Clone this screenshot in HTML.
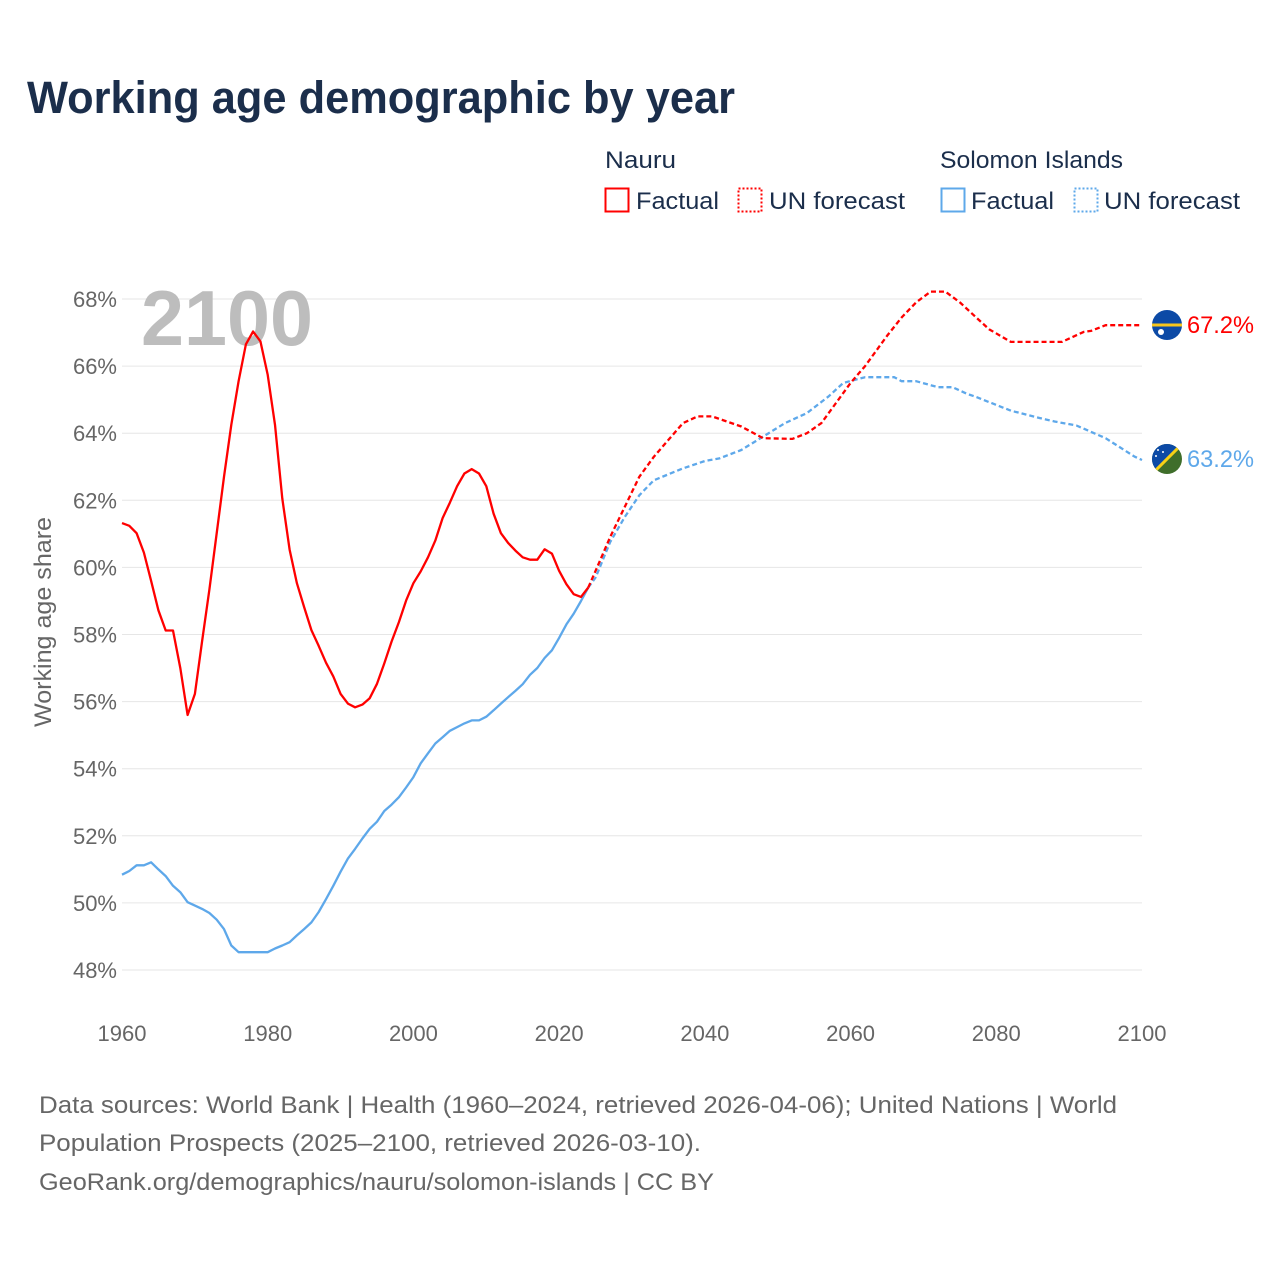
<!DOCTYPE html>
<html><head><meta charset="utf-8">
<style>
html,body{margin:0;padding:0;background:#fff;}
body{width:1280px;height:1280px;overflow:hidden;font-family:"Liberation Sans",sans-serif;}
svg text{font-family:"Liberation Sans",sans-serif;}
</style></head>
<body>
<svg id="chart" width="1280" height="1280" xmlns="http://www.w3.org/2000/svg">
<text x="27" y="113" font-size="45" font-weight="bold" fill="#1b2e4b" textLength="708" lengthAdjust="spacingAndGlyphs">Working age demographic by year</text>
<g>
<text x="605" y="168" font-size="24" fill="#1b2e4b" textLength="71" lengthAdjust="spacingAndGlyphs">Nauru</text>
<rect x="605.5" y="188.5" width="23" height="23" fill="none" stroke="#f00" stroke-width="2"/>
<text x="636" y="209" font-size="24" fill="#1b2e4b" textLength="83" lengthAdjust="spacingAndGlyphs">Factual</text>
<rect x="738.5" y="188.5" width="23" height="23" fill="none" stroke="#f00" stroke-width="2" stroke-dasharray="2,2"/>
<text x="769" y="209" font-size="24" fill="#1b2e4b" textLength="136" lengthAdjust="spacingAndGlyphs">UN forecast</text>
<text x="940" y="168" font-size="24" fill="#1b2e4b" textLength="183" lengthAdjust="spacingAndGlyphs">Solomon Islands</text>
<rect x="941.5" y="188.5" width="23" height="23" fill="none" stroke="#5ea8ea" stroke-width="2"/>
<text x="971" y="209" font-size="24" fill="#1b2e4b" textLength="83" lengthAdjust="spacingAndGlyphs">Factual</text>
<rect x="1074.5" y="188.5" width="23" height="23" fill="none" stroke="#5ea8ea" stroke-width="2" stroke-dasharray="2,2"/>
<text x="1104" y="209" font-size="24" fill="#1b2e4b" textLength="136" lengthAdjust="spacingAndGlyphs">UN forecast</text>
</g>
<g id="grid"></g>
<text x="141" y="345" font-size="78" font-weight="bold" fill="#bdbdbd" textLength="172" lengthAdjust="spacingAndGlyphs">2100</text>
<text transform="translate(51,622) rotate(-90)" text-anchor="middle" font-size="24" fill="#666" textLength="210" lengthAdjust="spacingAndGlyphs">Working age share</text>
<g id="series"></g>
<g>
<circle cx="1167" cy="325" r="15" fill="#0c4aa6"/>
<rect x="1152" y="323.5" width="30" height="3" fill="#f7c61c"/>
<circle cx="1161" cy="332" r="3" fill="#fff"/>
</g>
<g>
<clipPath id="sc"><circle cx="1167" cy="459" r="15"/></clipPath>
<g clip-path="url(#sc)">
<rect x="1150" y="442" width="34" height="34" fill="#3f6e2b"/>
<polygon points="1150,442 1184,442 1150,476" fill="#0c4aa6"/>
<line x1="1150" y1="476" x2="1184" y2="442" stroke="#f7d116" stroke-width="3"/>
<circle cx="1158" cy="450" r="1" fill="#fff"/><circle cx="1163" cy="452" r="1" fill="#fff"/><circle cx="1156" cy="456" r="1" fill="#fff"/>
</g></g>
<text id="lbl-n" x="1187" y="333" font-size="24" fill="#f00" textLength="67" lengthAdjust="spacingAndGlyphs">67.2%</text>
<text id="lbl-s" x="1187" y="467" font-size="24" fill="#5ea8ea" textLength="67" lengthAdjust="spacingAndGlyphs">63.2%</text>
<g font-size="24" fill="#666">
<text x="39" y="1113" textLength="1078" lengthAdjust="spacingAndGlyphs">Data sources: World Bank | Health (1960–2024, retrieved 2026-04-06); United Nations | World</text>
<text x="39" y="1151" textLength="662" lengthAdjust="spacingAndGlyphs">Population Prospects (2025–2100, retrieved 2026-03-10).</text>
<text x="39" y="1190" textLength="675" lengthAdjust="spacingAndGlyphs">GeoRank.org/demographics/nauru/solomon-islands | CC BY</text>
</g>
</svg>
<script>
const yTicks=[48,50,52,54,56,58,60,62,64,66,68];
const xTicks=[1960,1980,2000,2020,2040,2060,2080,2100];
const factualStart=1960;
const nauruFactual=[61.32,61.24,61.02,60.44,59.6,58.72,58.12,58.12,57.0,55.6,56.23,57.8,59.34,61.02,62.7,64.25,65.55,66.65,67.03,66.74,65.74,64.25,62.05,60.53,59.53,58.82,58.13,57.66,57.16,56.75,56.23,55.94,55.83,55.91,56.1,56.53,57.14,57.79,58.37,59.01,59.53,59.88,60.3,60.8,61.47,61.93,62.42,62.8,62.93,62.8,62.42,61.6,61.02,60.73,60.5,60.3,60.23,60.23,60.54,60.41,59.9,59.5,59.2,59.12,59.4];
const solomonFactual=[50.84,50.95,51.12,51.12,51.21,51.0,50.8,50.51,50.32,50.02,49.92,49.82,49.7,49.5,49.22,48.73,48.53,48.53,48.53,48.53,48.53,48.64,48.73,48.83,49.03,49.22,49.42,49.73,50.11,50.51,50.93,51.32,51.61,51.92,52.21,52.42,52.74,52.93,53.15,53.44,53.75,54.16,54.46,54.75,54.94,55.13,55.24,55.35,55.44,55.44,55.55,55.74,55.94,56.13,56.32,56.52,56.8,57.0,57.3,57.53,57.9,58.3,58.62,59.0,59.4];
const nauruForecastYears=[2024,2025,2027,2029,2031,2033,2035,2037,2039,2041,2045,2048,2052,2054,2056,2058,2060,2062,2063,2065,2067,2069,2071,2073,2075,2077,2079,2082,2089,2092,2093,2095,2100];
const nauruForecast=[59.4,59.9,60.9,61.8,62.7,63.3,63.8,64.3,64.5,64.5,64.2,63.85,63.83,64.0,64.3,64.9,65.5,66.0,66.3,66.9,67.45,67.9,68.22,68.22,67.9,67.5,67.1,66.72,66.72,67.02,67.05,67.22,67.22];
const solomonForecastYears=[2024,2025,2027,2029,2031,2033,2037,2040,2042,2045,2048,2051,2054,2057,2059,2062,2066,2067,2069,2072,2074,2076,2077,2082,2086,2088,2091,2095,2099,2100];
const solomonForecast=[59.4,59.7,60.75,61.5,62.15,62.6,62.95,63.17,63.25,63.5,63.9,64.3,64.6,65.1,65.5,65.67,65.67,65.55,65.55,65.37,65.37,65.17,65.1,64.67,64.45,64.35,64.23,63.85,63.3,63.2];

const NS='http://www.w3.org/2000/svg';
const X=y=>122+(y-1960)*(1020/140);
const Y=v=>970-(v-48)*(671/20);
const grid=document.getElementById('grid');
const ser=document.getElementById('series');
function mk(tag,attrs,parent){const e=document.createElementNS(NS,tag);for(const k in attrs)e.setAttribute(k,attrs[k]);parent.appendChild(e);return e;}
yTicks.forEach(t=>{
  const l=mk('line',{x1:122,x2:1142,y1:Y(t),y2:Y(t),stroke:'#e6e6e6','stroke-width':1},grid);
  
  
  const tx=mk('text',{x:117,y:Y(t)+8,'text-anchor':'end','font-size':22,fill:'#666'},grid);
  tx.textContent=t+'%';
  
  
});
xTicks.forEach(t=>{
  const tx=mk('text',{x:X(t),y:1041,'text-anchor':'middle','font-size':22,fill:'#666'},grid);
  tx.textContent=t;
  
  
});
function path(xs,vs,color,dash,name){
  const d=xs.map((x,i)=>(i?'L':'M')+X(x).toFixed(1)+','+Y(vs[i]).toFixed(1)).join('');
  const p=mk('path',{d:d,fill:'none',stroke:color,'stroke-width':2.3,'stroke-linejoin':'round'},ser);
  if(dash)p.setAttribute('stroke-dasharray',dash);
  
  
}
const fy=nauruFactual.map((_,i)=>factualStart+i);
path(solomonForecastYears,solomonForecast,'#5ea8ea','5,3','solomon-forecast-line');
path(nauruForecastYears,nauruForecast,'#f00','5,3','nauru-forecast-line');
path(fy,solomonFactual,'#5ea8ea',null,'solomon-factual-line');
path(fy,nauruFactual,'#f00',null,'nauru-factual-line');
</script>
</body></html>
